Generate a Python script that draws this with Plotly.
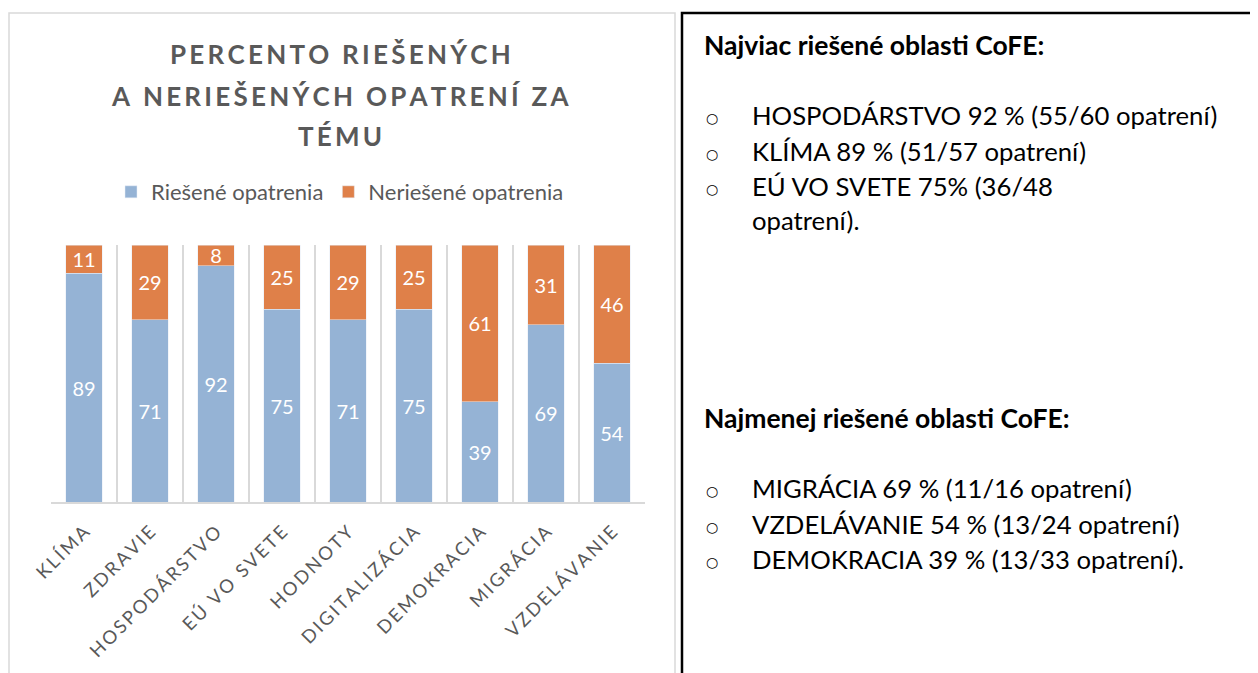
import plotly.graph_objects as go

categories = ["KLÍMA", "ZDRAVIE", "HOSPODÁRSTVO", "EÚ VO SVETE", "HODNOTY",
              "DIGITALIZÁCIA", "DEMOKRACIA", "MIGRÁCIA", "VZDELÁVANIE"]
solved = [89, 71, 92, 75, 71, 75, 39, 69, 54]
unsolved = [11, 29, 8, 25, 29, 25, 61, 31, 46]
series_names = ["Riešené opatrenia", "Neriešené opatrenia"]
title_lines = ["PERCENTO RIEŠENÝCH", "A NERIEŠENÝCH OPATRENÍ ZA", "TÉMU"]

top_heading = "Najviac riešené oblasti CoFE:"
top_items = ["HOSPODÁRSTVO 92 % (55/60 opatrení)", "KLÍMA 89 % (51/57 opatrení)",
             "EÚ VO SVETE 75% (36/48"]
top_cont = "opatrení)."
bottom_heading = "Najmenej riešené oblasti CoFE:"
bottom_items = ["MIGRÁCIA 69 % (11/16 opatrení)", "VZDELÁVANIE 54 % (13/24 opatrení)",
                "DEMOKRACIA 39 % (13/33 opatrení)."]

OFF = 8  # page body margin
W, H = 1258 - OFF, 673 - OFF
L, R, T, B = 51, 645, 245, 502  # plot area in page pixels

def px(x):
    return (x - L) / (R - L)

def py(y):
    return (B - y) / (B - T)

def spaced(s, sep="\u200a"):
    return sep.join(list(s))

BLUE = "#95B3D5"
ORANGE = "#DF8049"
GRAY = "#595959"
FONT = "Lato"

fig = go.Figure()
for vals, name, col in [(solved, series_names[0], BLUE), (unsolved, series_names[1], ORANGE)]:
    fig.add_trace(go.Bar(x=categories, y=vals, name=name, marker_color=col,
                         text=vals, textposition="inside", insidetextanchor="middle",
                         textangle=0, constraintext="none", cliponaxis=False,
                         textfont=dict(color="white", size=20, family=FONT)))

fig.update_layout(
    barmode="stack", bargap=0.44,
    width=W, height=H,
    margin=dict(l=L - OFF, r=W - (R - OFF), t=T - OFF, b=H - (B - OFF), autoexpand=False),
    paper_bgcolor="white", plot_bgcolor="white",
    font=dict(family=FONT, color=GRAY),
    showlegend=True,
    legend=dict(orientation="h", x=px(340), xanchor="center", y=py(192), yanchor="middle",
                font=dict(size=22, color=GRAY, family=FONT), traceorder="normal"),
    uniformtext=dict(mode=False),
)
fig.update_xaxes(
    tickmode="array", tickvals=categories, ticktext=[spaced(c, "\u2009") for c in categories],
    tickangle=-45, tickson="boundaries", showgrid=True, gridcolor="#D9D9D9", gridwidth=1.5,
    showline=True, linecolor="#D9D9D9", linewidth=2, ticks="",
    tickfont=dict(size=18.5, color=GRAY, family=FONT), ticklabelstandoff=10,
)
fig.update_yaxes(range=[0, 100], visible=False)

# frames
fig.add_shape(type="rect", xref="paper", yref="paper", x0=px(9), x1=px(675), y0=py(13), y1=py(690),
              line=dict(color="#D9D9D9", width=1.5), layer="below")
fig.add_shape(type="rect", xref="paper", yref="paper", x0=px(682), x1=px(1275), y0=py(13), y1=py(690),
              line=dict(color="black", width=2.5), layer="below")

# title
for line, yc in zip(title_lines, [54, 96, 136]):
    fig.add_annotation(text="<b>" + spaced(line, "\u2009") + "</b>", xref="paper", yref="paper",
                       x=px(340), y=py(yc), xanchor="center", yanchor="middle", showarrow=False,
                       font=dict(size=26, color=GRAY, family=FONT))

def left_text(txt, x, y, size=25.7, bold=False, family=FONT):
    fig.add_annotation(text=("<b>%s</b>" % txt) if bold else txt, xref="paper", yref="paper",
                       x=px(x), y=py(y), xanchor="left", yanchor="middle", showarrow=False,
                       font=dict(size=size, color="black", family=family))

def bullet(y):
    fig.add_annotation(text="\u25cb", xref="paper", yref="paper", x=px(712), y=py(y + 3),
                       xanchor="center", yanchor="middle", showarrow=False,
                       font=dict(size=14, color="black", family="DejaVu Sans"))

left_text(top_heading, 702, 45, size=26.5, bold=True)
for t, yc in zip(top_items, [115, 151, 186]):
    bullet(yc)
    left_text(t, 750, yc)
left_text(top_cont, 750, 220)

left_text(bottom_heading, 702, 418, size=26.5, bold=True)
for t, yc in zip(bottom_items, [488, 524, 559]):
    bullet(yc)
    left_text(t, 750, yc)

fig.write_html("out.html")
